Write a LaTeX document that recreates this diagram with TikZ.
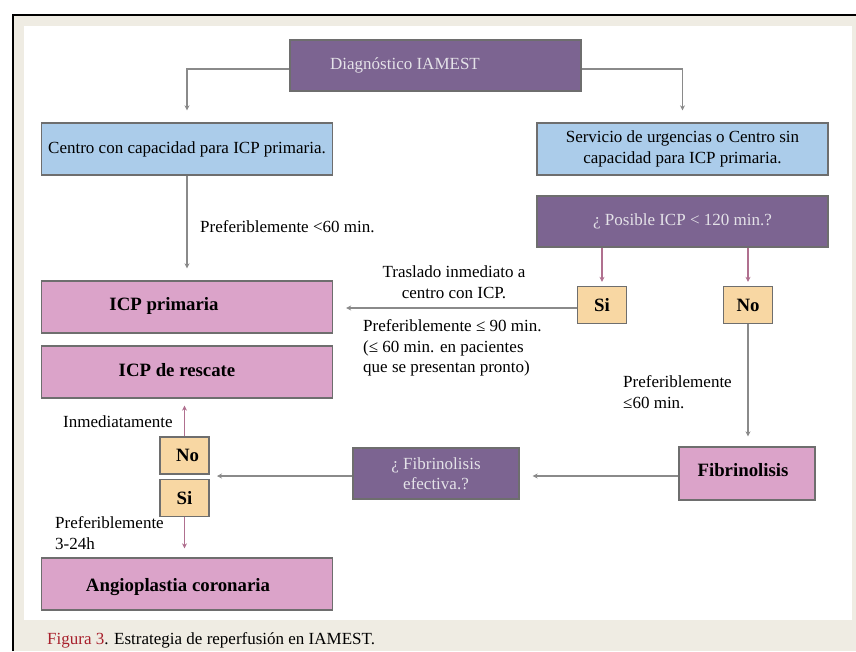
\documentclass[tikz,border=0pt]{standalone}
\usepackage{fontspec}
\setmainfont{Liberation Serif}
\usetikzlibrary{arrows.meta}
\definecolor{purp}{HTML}{7C6491}
\definecolor{lblue}{HTML}{ABCCEA}
\definecolor{pinkb}{HTML}{DBA3C9}
\definecolor{tan}{HTML}{F8D7A3}
\definecolor{boxline}{HTML}{6E6E6E}
\definecolor{gline}{HTML}{8A8A8A}
\definecolor{pline}{HTML}{B0708F}
\definecolor{beige}{HTML}{EFECE3}
\definecolor{lighttxt}{HTML}{E4E2E8}
\definecolor{capred}{HTML}{A8202C}
\newcommand\myreg{\fontsize{17}{20.5}\selectfont}
\newcommand\mybold{\fontsize{18.8}{22}\selectfont\bfseries}
\begin{document}
\begin{tikzpicture}[x=1pt,y=-1pt,
  box/.style={draw=boxline, line width=1.3pt, inner sep=0pt, font=\myreg, align=center},
  bigbox/.style={box, minimum width=291pt, minimum height=52pt},
  smallbox/.style={box, fill=tan, minimum width=49pt, minimum height=37pt, font=\mybold},
  lbl/.style={inner sep=0pt, font=\myreg, align=left},
  btxt/.style={inner sep=0pt, font=\mybold},
  ptxt/.style={inner sep=0pt, font=\myreg, text=lighttxt, align=center},
  garrow/.style={draw=gline, line width=1.8pt, -{Stealth[length=5pt,width=5pt]}},
  parrow/.style={draw=pline, line width=1.5pt, -{Stealth[length=5pt,width=5pt]}}]
\useasboundingbox (0,0) rectangle (856,651);
\fill[white] (0,0) rectangle (856,651);
\fill[beige] (13,15) rectangle (856,651);
\fill[white] (24,26) rectangle (852,620);
\draw[line width=2.5pt] (13,651) -- (13,15) -- (856,15);

% boxes
\node[box, fill=purp, minimum width=291pt, minimum height=51pt] (diag) at (435.5,65.5) {};
\node[ptxt] (diagt) at (405,65) {Diagnóstico IAMEST};
\node[bigbox, fill=lblue] (centro) at (187,149) {Centro con capacidad para ICP primaria.};
\node[bigbox, fill=lblue] (serv) at (682.5,149) {Servicio de urgencias o Centro sin\\capacidad para ICP primaria.};
\node[box, fill=purp, minimum width=291pt, minimum height=51pt, text=lighttxt] (pos) at (682.5,221.5) {¿ Posible ICP < 120 min.?};
\node[smallbox] (siR) at (602,305) {Si};
\node[smallbox] (noR) at (748,305) {No};
\node[bigbox, fill=pinkb] (icpp) at (187,307) {};
\node[btxt] (icppt) at (164,306) {ICP primaria};
\node[bigbox, fill=pinkb] (resc) at (187,372) {};
\node[btxt] (resct) at (177,370) {ICP de rescate};
\node[smallbox] (noL) at (184.5,455.5) {\hspace{6pt}No};
\node[smallbox] (siL) at (184.5,498) {Si};
\node[bigbox, fill=pinkb] (angio) at (187,584) {};
\node[btxt] (angiot) at (178,587) {Angioplastia coronaria};
\node[box, fill=purp, minimum width=166pt, minimum height=51pt, text=lighttxt] (fefec) at (436,473.5) {¿ Fibrinolisis\\efectiva.?};
\node[box, fill=pinkb, minimum width=136pt, minimum height=53pt] (fib) at (747,473.5) {};
\node[btxt] (fibt) at (743,470) {Fibrinolisis};

% connectors
\draw[garrow, shorten >=12pt] ([yshift=-3.5pt]diag.west) -| (centro.north);
\draw[garrow, shorten >=12pt] ([yshift=-3.5pt]diag.east) -| (serv.north);
\draw[garrow, shorten >=12pt] (centro.south) -- (icpp.north);
\draw[parrow, shorten >=4pt] (siR.north |- pos.south) -- (siR.north);
\draw[parrow, shorten >=4pt] (noR.north |- pos.south) -- (noR.north);
\draw[garrow, shorten >=13pt] ([yshift=-3pt]siR.west) -- ([yshift=-3pt]siR.west -| icpp.east);
\draw[garrow, shorten >=10pt] (noR.south) -- (noR.south |- fib.north);
\draw[garrow, shorten >=13pt] ([yshift=-2.5pt]fib.west) -- ([yshift=-2.5pt]fib.west -| fefec.east);
\coordinate (gap) at (217,476);
\draw[garrow] ([yshift=-2.5pt]fefec.west) -- (gap);
\draw[parrow, shorten >=7pt] (noL.north) -- (noL.north |- resc.south);
\draw[parrow, shorten >=9pt] (siL.south) -- (siL.south |- angio.north);

% labels
\node[lbl, anchor=west] (l1) at (200,227) {Preferiblemente <60 min.};
\node[lbl, align=center] (l2) at (454,282) {Traslado inmediato a\\centro con ICP.};
\node[lbl, anchor=west] (l3) at (363,348) {Preferiblemente ≤ 90 min.\\(≤ 60 min. en pacientes\\que se presentan pronto)};
\node[lbl, anchor=west] (l4) at (623,392) {Preferiblemente\\≤60 min.};
\node[lbl, anchor=west] (l5) at (63,422) {Inmediatamente};
\node[lbl, anchor=west] (l6) at (55,533) {Preferiblemente\\3-24h};
\node[lbl, anchor=west] (cap) at (47,640) {\textcolor{capred}{Figura 3}. Estrategia de reperfusión en IAMEST.};
\end{tikzpicture}
\end{document}
